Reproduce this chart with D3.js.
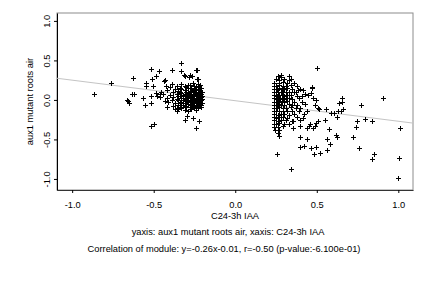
<!DOCTYPE html>
<html>
<head>
<meta charset="utf-8">
<script src="https://cdn.jsdelivr.net/npm/d3@7"></script>
<style>
  body { margin: 0; background: #fff; }
  text { font-family: "Liberation Sans", Arial, sans-serif; fill: #000; }
</style>
</head>
<body>
<div class="container"></div>
<script>
// values, [x, y]
const leftCore = [
  [-0.39, 0.20], [-0.33, 0.205], [-0.29, 0.195], [-0.26, 0.21], [-0.23, 0.20], [-0.215, 0.19],
  [-0.36, 0.18], [-0.31, 0.175], [-0.28, 0.185], [-0.25, 0.17], [-0.22, 0.18],
  [-0.40, 0.16], [-0.34, 0.155], [-0.30, 0.165], [-0.27, 0.15], [-0.24, 0.16], [-0.21, 0.155],
  [-0.37, 0.14], [-0.33, 0.135], [-0.29, 0.145], [-0.26, 0.13], [-0.245, 0.14], [-0.225, 0.135], [-0.21, 0.145],
  [-0.42, 0.12], [-0.35, 0.115], [-0.31, 0.125], [-0.28, 0.11], [-0.265, 0.12], [-0.25, 0.115], [-0.23, 0.125], [-0.215, 0.11],
  [-0.38, 0.10], [-0.34, 0.095], [-0.30, 0.105], [-0.29, 0.09], [-0.27, 0.10], [-0.255, 0.095], [-0.24, 0.105], [-0.22, 0.09], [-0.205, 0.10],
  [-0.44, 0.08], [-0.36, 0.075], [-0.33, 0.085], [-0.31, 0.07], [-0.28, 0.08], [-0.26, 0.075], [-0.245, 0.085], [-0.23, 0.07], [-0.21, 0.08],
  [-0.40, 0.06], [-0.35, 0.055], [-0.32, 0.065], [-0.30, 0.05], [-0.285, 0.06], [-0.27, 0.055], [-0.25, 0.065], [-0.235, 0.05], [-0.22, 0.06], [-0.205, 0.055],
  [-0.46, 0.04], [-0.38, 0.035], [-0.34, 0.045], [-0.31, 0.03], [-0.29, 0.04], [-0.275, 0.035], [-0.26, 0.045], [-0.24, 0.03], [-0.225, 0.04], [-0.21, 0.035],
  [-0.42, 0.02], [-0.36, 0.015], [-0.33, 0.025], [-0.30, 0.01], [-0.28, 0.02], [-0.265, 0.015], [-0.25, 0.025], [-0.235, 0.01], [-0.22, 0.02], [-0.205, 0.015],
  [-0.39, 0.00], [-0.35, -0.005], [-0.32, 0.005], [-0.295, -0.01], [-0.27, 0.00], [-0.255, -0.005], [-0.24, 0.005], [-0.225, -0.01], [-0.21, 0.00],
  [-0.41, -0.02], [-0.34, -0.025], [-0.31, -0.015], [-0.29, -0.03], [-0.275, -0.02], [-0.26, -0.025], [-0.245, -0.015], [-0.23, -0.03], [-0.215, -0.02],
  [-0.37, -0.04], [-0.33, -0.045], [-0.30, -0.035], [-0.28, -0.05], [-0.265, -0.04], [-0.25, -0.045], [-0.235, -0.035], [-0.22, -0.05], [-0.205, -0.04],
  [-0.35, -0.06], [-0.32, -0.065], [-0.29, -0.055], [-0.27, -0.07], [-0.255, -0.06], [-0.24, -0.065], [-0.225, -0.055], [-0.21, -0.07],
  [-0.38, -0.08], [-0.34, -0.085], [-0.31, -0.075], [-0.28, -0.09], [-0.26, -0.08], [-0.24, -0.085], [-0.22, -0.075],
  [-0.36, -0.10], [-0.33, -0.105], [-0.30, -0.095], [-0.27, -0.11], [-0.25, -0.10], [-0.23, -0.105], [-0.21, -0.095],
  [-0.35, -0.12], [-0.31, -0.125], [-0.28, -0.115], [-0.24, -0.13], [-0.36, -0.14], [-0.29, -0.145]
];

const leftOuter = [
  [-0.866, 0.08], [-0.762, 0.22], [-0.627, 0.28], [-0.658, -0.01], [-0.652, -0.035], [-0.666, 0.0],
  [-0.631, 0.08], [-0.622, 0.08], [-0.566, 0.03], [-0.553, -0.06], [-0.517, 0.39], [-0.51, 0.27],
  [-0.549, 0.22], [-0.547, 0.17], [-0.518, -0.04], [-0.514, -0.33], [-0.50, -0.30], [-0.47, 0.36],
  [-0.488, 0.30], [-0.333, 0.47], [-0.388, 0.38], [-0.33, 0.36], [-0.242, 0.38], [-0.314, 0.31],
  [-0.283, 0.29], [-0.226, 0.26], [-0.298, -0.20], [-0.306, -0.25], [-0.257, -0.23], [-0.224, -0.27],
  [-0.242, -0.36], [-0.371, -0.12], [-0.418, -0.09], [-0.43, 0.25], [-0.506, 0.175], [-0.48, 0.05],
  [-0.483, 0.09], [-0.514, 0.05], [-0.439, 0.24], [-0.422, 0.18], [-0.463, 0.07], [-0.453, 0.10],
  [-0.433, -0.015], [-0.279, 0.31], [-0.31, 0.30], [-0.263, 0.30], [-0.234, 0.26], [-0.234, 0.38]
];

const rightCore = [
  [0.26, 0.30], [0.28, 0.295], [0.33, 0.305],
  [0.25, 0.26], [0.27, 0.255], [0.30, 0.265], [0.34, 0.26],
  [0.24, 0.22], [0.27, 0.215], [0.29, 0.225], [0.32, 0.22], [0.36, 0.215],
  [0.235, 0.18], [0.25, 0.175], [0.27, 0.185], [0.29, 0.18], [0.31, 0.175], [0.34, 0.185], [0.38, 0.18],
  [0.24, 0.14], [0.255, 0.135], [0.27, 0.145], [0.285, 0.14], [0.30, 0.135], [0.32, 0.145], [0.35, 0.14], [0.40, 0.135],
  [0.235, 0.10], [0.25, 0.095], [0.265, 0.105], [0.28, 0.10], [0.295, 0.095], [0.31, 0.105], [0.33, 0.10], [0.36, 0.095],
  [0.24, 0.06], [0.255, 0.055], [0.27, 0.065], [0.285, 0.06], [0.30, 0.055], [0.32, 0.065], [0.34, 0.06], [0.38, 0.055],
  [0.235, 0.02], [0.25, 0.015], [0.26, 0.025], [0.275, 0.02], [0.29, 0.015], [0.31, 0.025], [0.33, 0.02], [0.35, 0.015], [0.39, 0.025],
  [0.24, -0.02], [0.255, -0.025], [0.27, -0.015], [0.285, -0.02], [0.30, -0.025], [0.32, -0.015], [0.36, -0.02], [0.41, -0.025],
  [0.235, -0.06], [0.25, -0.065], [0.265, -0.055], [0.28, -0.06], [0.30, -0.065], [0.33, -0.055], [0.35, -0.06], [0.38, -0.065], [0.43, -0.055],
  [0.24, -0.10], [0.255, -0.105], [0.27, -0.095], [0.29, -0.10], [0.31, -0.105], [0.34, -0.095], [0.37, -0.10], [0.40, -0.105],
  [0.235, -0.14], [0.25, -0.145], [0.27, -0.135], [0.29, -0.14], [0.32, -0.145], [0.35, -0.135], [0.39, -0.14], [0.44, -0.145],
  [0.24, -0.18], [0.26, -0.185], [0.28, -0.175], [0.30, -0.18], [0.33, -0.185], [0.36, -0.175], [0.42, -0.18],
  [0.235, -0.22], [0.25, -0.225], [0.27, -0.215], [0.29, -0.22], [0.32, -0.225], [0.38, -0.215],
  [0.24, -0.26], [0.26, -0.265], [0.28, -0.255], [0.31, -0.26], [0.35, -0.265], [0.40, -0.255],
  [0.235, -0.30], [0.25, -0.305], [0.27, -0.295], [0.30, -0.30], [0.33, -0.305],
  [0.24, -0.34], [0.26, -0.345], [0.29, -0.335], [0.245, -0.38], [0.27, -0.375]
];

const rightOuter = [
  [0.502, 0.40], [0.279, 0.31], [0.328, 0.25], [0.34, 0.27], [0.469, 0.16], [0.463, 0.09],
  [0.447, 0.06], [0.426, 0.07], [0.385, 0.12], [0.37, 0.10], [0.498, 0.0], [0.488, -0.06],
  [0.514, -0.12], [0.555, -0.12], [0.59, -0.16], [0.549, -0.25], [0.508, -0.27], [0.575, -0.37],
  [0.561, -0.49], [0.584, -0.56], [0.561, -0.64], [0.40, -0.47], [0.439, -0.49], [0.40, -0.60],
  [0.422, -0.58], [0.463, -0.61], [0.494, -0.59], [0.48, -0.68], [0.518, -0.67], [0.256, -0.68],
  [0.339, -0.88], [0.355, -0.36], [0.437, -0.35], [0.474, -0.35], [0.49, -0.33], [0.453, -0.33],
  [0.267, -0.46], [0.263, -0.42], [0.907, 0.02], [0.774, -0.07], [0.655, 0.02], [0.652, -0.02],
  [0.637, -0.045], [0.661, -0.11], [0.649, -0.14], [0.633, -0.14], [0.604, -0.17], [0.625, -0.21],
  [0.747, -0.27], [0.793, -0.24], [0.839, -0.27], [0.743, -0.34], [1.009, -0.35], [0.617, -0.44],
  [0.621, -0.47], [0.723, -0.47], [0.76, -0.61], [0.852, -0.68], [0.839, -0.75], [1.003, -0.74],
  [0.999, -0.99], [0.471, 0.15], [0.416, 0.12], [0.412, 0.05], [0.477, 0.03], [0.508, -0.10],
  [0.416, -0.225], [0.457, -0.31], [0.355, -0.27], [0.396, -0.33], [0.498, -0.29]
];

const xTicks = [-1.0, -0.5, 0.0, 0.5, 1.0];
const yTicks = [-1.0, -0.5, 0.0, 0.5, 1.0];
const fitSlope = -0.26;
const fitIntercept = -0.01;

const xTitle = "C24-3h IAA";
const yTitle = "aux1 mutant roots air";
const caption1 = "yaxis: aux1 mutant roots air, xaxis: C24-3h IAA";
const caption2 = "Correlation of module: y=-0.26x-0.01, r=-0.50 (p-value:-6.100e-01)";

const width = 432;
const height = 288;
const margin = { top: 13, right: 19, bottom: 98, left: 57 };
const fontSize = "9.3px";

const points = leftCore.concat(leftOuter, rightCore, rightOuter);

const svg = d3
  .select(".container")
  .append("svg")
  .attr("width", width)
  .attr("height", height);

const xScale = d3
  .scaleLinear()
  .domain([-1.093, 1.09])
  .range([margin.left, width - margin.right]);

const yScale = d3
  .scaleLinear()
  .domain([-1.14, 1.1])
  .range([height - margin.bottom, margin.top]);

const fmt = (d) => d.toFixed(1);

// frame
svg
  .append("rect")
  .attr("x", margin.left)
  .attr("y", margin.top)
  .attr("width", width - margin.left - margin.right)
  .attr("height", height - margin.top - margin.bottom)
  .attr("fill", "none")
  .attr("stroke", "#8c8c8c");

const xAxis = svg
  .append("g")
  .attr("transform", `translate(0,${height - margin.bottom})`)
  .call(d3.axisBottom(xScale).tickValues(xTicks).tickFormat(fmt).tickSize(3).tickSizeOuter(0));
xAxis.select(".domain").attr("stroke", "#333");
xAxis.selectAll("text").attr("y", 17.5).attr("dy", 0).style("font-size", fontSize);

const yAxis = svg
  .append("g")
  .attr("transform", `translate(${margin.left},0)`)
  .call(d3.axisLeft(yScale).tickValues(yTicks).tickFormat(fmt).tickSize(3).tickSizeOuter(0));
yAxis.select(".domain").attr("stroke", "#000");
yAxis
  .selectAll("text")
  .attr("transform", "rotate(-90)")
  .attr("x", 0)
  .attr("y", -7)
  .attr("dy", 0)
  .attr("text-anchor", "middle")
  .style("font-size", fontSize);

// fitted line
const xd = xScale.domain();
svg
  .append("line")
  .attr("x1", xScale(xd[0]))
  .attr("y1", yScale(fitSlope * xd[0] + fitIntercept))
  .attr("x2", xScale(xd[1]))
  .attr("y2", yScale(fitSlope * xd[1] + fitIntercept))
  .attr("stroke", "#c4c4c4")
  .attr("stroke-width", 1);

// plus markers
svg
  .append("g")
  .selectAll("path")
  .data(points)
  .enter()
  .append("path")
  .attr("transform", (d) => `translate(${Math.round(xScale(d[0])) + 0.5},${Math.round(yScale(d[1])) + 0.5})`)
  .attr("d", "M-2.5,0H2.5M0,-2.5V2.5")
  .attr("stroke", "#000")
  .attr("stroke-width", 1)
  .attr("fill", "none");

// titles
svg
  .append("text")
  .attr("x", 235)
  .attr("y", 219)
  .attr("text-anchor", "middle")
  .style("font-size", fontSize)
  .text(xTitle);

svg
  .append("text")
  .attr("transform", "translate(32.5,101.5) rotate(-90)")
  .attr("text-anchor", "middle")
  .style("font-size", fontSize)
  .text(yTitle);

svg
  .append("text")
  .attr("x", 228)
  .attr("y", 235)
  .attr("text-anchor", "middle")
  .style("font-size", fontSize)
  .text(caption1);

svg
  .append("text")
  .attr("x", 224)
  .attr("y", 252)
  .attr("text-anchor", "middle")
  .style("font-size", fontSize)
  .text(caption2);
</script>
</body>
</html>
